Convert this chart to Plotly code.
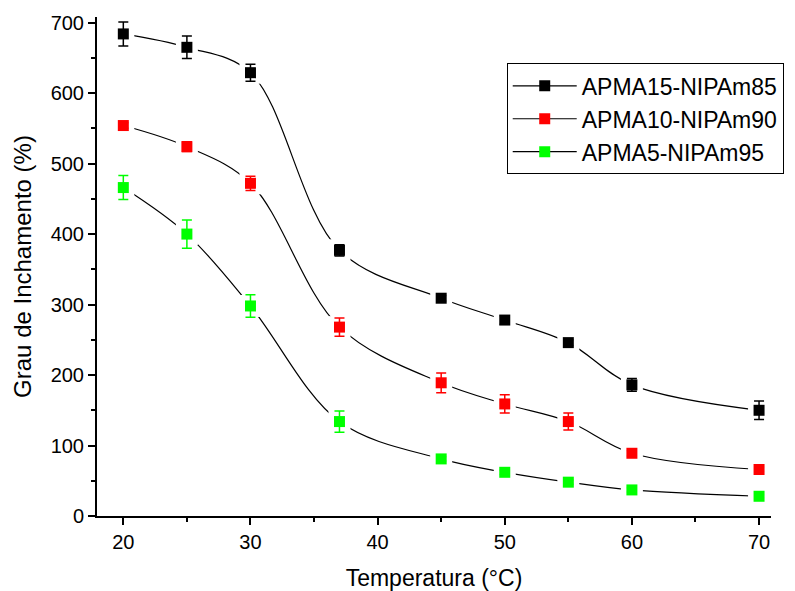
import plotly.graph_objects as go

temperatura = [20, 25, 30, 37, 45, 50, 55, 60, 70]

apma15 = [684, 665, 629, 377, 309, 278, 246, 186, 150]
apma15_err = [17, 16, 12, 8, 4, 6, 4, 9, 13]

apma10 = [554, 524, 472, 268, 189, 159, 134, 89, 66]
apma10_err = [4, 7, 10, 13, 14, 13, 12, 4, 3]

apma5 = [466, 400, 298, 134, 81, 62, 48, 37, 28]
apma5_err = [17, 20, 16, 15, 3, 3, 3, 3, 2]

names = ["APMA15-NIPAm85", "APMA10-NIPAm90", "APMA5-NIPAm95"]
colors = ["#000000", "#ff0000", "#00ff00"]
series = [apma15, apma10, apma5]
errors = [apma15_err, apma10_err, apma5_err]

FONT = "Liberation Sans, Arial, sans-serif"

fig = go.Figure()

# smooth connecting lines
for ys in series:
    fig.add_trace(go.Scatter(x=temperatura, y=ys, mode="lines",
                             line=dict(color="black", width=1.2, shape="spline", smoothing=1.0),
                             showlegend=False, hoverinfo="skip"))
# white halos to create gaps around markers
for ys in series:
    fig.add_trace(go.Scatter(x=temperatura, y=ys, mode="markers",
                             marker=dict(symbol="square", size=22, color="white", line=dict(width=0)),
                             showlegend=False, hoverinfo="skip"))
# markers with error bars
for ys, err, c in zip(series, errors, colors):
    fig.add_trace(go.Scatter(x=temperatura, y=ys, mode="markers",
                             marker=dict(symbol="square", size=11, color=c, line=dict(width=0)),
                             error_y=dict(type="data", array=err, color=c, thickness=1.5, width=5),
                             showlegend=False))
# legend entries
for n, c in zip(names, colors):
    fig.add_trace(go.Scatter(x=[None], y=[None], mode="lines+markers", name=n,
                             line=dict(color="black", width=1.2),
                             marker=dict(symbol="square", size=11, color=c, line=dict(width=0))))

fig.update_layout(
    width=795, height=591,
    margin=dict(l=97, r=23, t=17, b=75),
    paper_bgcolor="white", plot_bgcolor="white",
    font=dict(family=FONT, color="black", size=20),
    legend=dict(x=0.607, y=0.907, xanchor="left", yanchor="top",
                bordercolor="black", borderwidth=1, bgcolor="white",
                font=dict(size=23, family=FONT), itemwidth=64,
                tracegroupgap=0),
    xaxis=dict(range=[17.93, 70.94], dtick=10, tick0=0, showgrid=False, zeroline=False,
               showline=True, linewidth=2, linecolor="black", automargin=False,
               ticks="outside", ticklen=7, tickwidth=2, tickcolor="black",
               minor=dict(dtick=5, tick0=0, ticks="outside", ticklen=4, tickwidth=2,
                          tickcolor="black", showgrid=False),
               tickfont=dict(size=20),
               title=dict(text="Temperatura (°C)", font=dict(size=23), standoff=20)),
    yaxis=dict(range=[0, 708], dtick=100, tick0=0, showgrid=False, zeroline=False,
               showline=True, linewidth=2, linecolor="black", automargin=False,
               ticks="outside", ticklen=7, tickwidth=2, tickcolor="black",
               minor=dict(dtick=50, tick0=0, ticks="outside", ticklen=4, tickwidth=2,
                          tickcolor="black", showgrid=False),
               tickfont=dict(size=20),
               title=dict(text="Grau de Inchamento (%)", font=dict(size=24), standoff=12)),
)

fig.write_html("out.html")
